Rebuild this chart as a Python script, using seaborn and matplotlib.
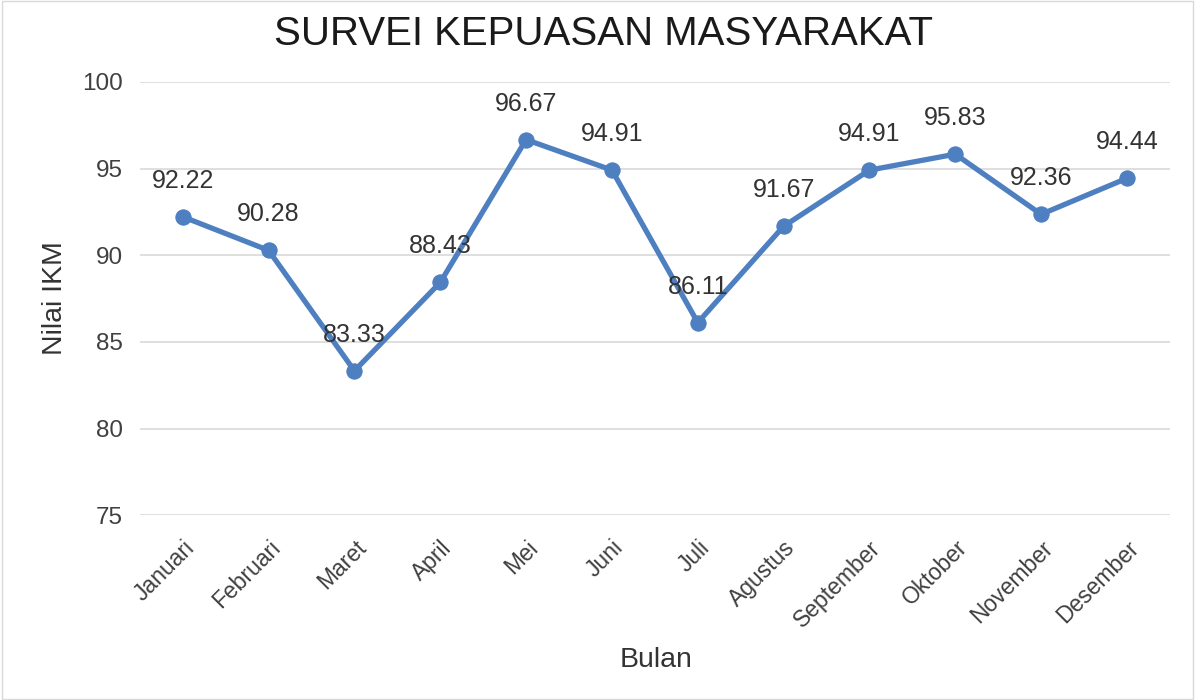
import matplotlib
matplotlib.use('Agg')
import matplotlib.pyplot as plt
import seaborn as sns
import pandas as pd

bulan = ['Januari', 'Februari', 'Maret', 'April', 'Mei', 'Juni', 'Juli',
         'Agustus', 'September', 'Oktober', 'November', 'Desember']
nilai_ikm = [92.22, 90.28, 83.33, 88.43, 96.67, 94.91, 86.11,
             91.67, 94.91, 95.83, 92.36, 94.44]
y_ticks = [75, 80, 85, 90, 95, 100]

LINE_COLOR = '#4e7fc0'
TEXT_COLOR = '#333333'

sns.set_theme(style='white')
plt.rcParams['font.family'] = ['Liberation Sans', 'DejaVu Sans']

df = pd.DataFrame({'Bulan': bulan, 'Nilai IKM': nilai_ikm})
df['pos'] = range(len(df))

fig = plt.figure(figsize=(11.95, 7.0), dpi=100)
ax = fig.add_axes([0.117, 0.264, 0.862, 0.619])

sns.lineplot(data=df, x='pos', y='Nilai IKM', ax=ax, color=LINE_COLOR,
             linewidth=3.8, marker='o', markersize=11,
             markeredgecolor=LINE_COLOR, markerfacecolor=LINE_COLOR)

# data labels above each point
for x, y in zip(df['pos'], df['Nilai IKM']):
    ax.annotate(f'{y:.2f}', (x, y), xytext=(0, 26), textcoords='offset points',
                ha='center', va='center', fontsize=18, color=TEXT_COLOR)

ax.set_xlim(-0.5, len(bulan) - 0.5)
ax.set_ylim(75, 100)
ax.set_yticks(y_ticks)
ax.set_xticks(df['pos'])
ax.set_xticklabels(bulan, rotation=45, ha='right', rotation_mode='anchor',
                   fontsize=16.5, color='#404040')
ax.tick_params(axis='y', labelsize=17.5, labelcolor='#404040', length=0, pad=12)
ax.tick_params(axis='x', length=0, pad=15)

ax.yaxis.grid(True, color='#d9d9d9', linewidth=1.2)
ax.set_axisbelow(True)
for s in ax.spines.values():
    s.set_visible(False)

ax.set_xlabel('Bulan', fontsize=20.5, color=TEXT_COLOR)
ax.xaxis.set_label_coords(0.501, -0.335)
ax.xaxis.label.set_va('center')
ax.set_ylabel('Nilai IKM', fontsize=20.5, color=TEXT_COLOR)
ax.yaxis.set_label_coords(-0.082, 0.5)
ax.yaxis.label.set_va('center')

fig.text(0.505, 0.952, 'SURVEI KEPUASAN MASYARAKAT', ha='center', va='center',
         fontsize=29, color='#1a1a1a')

border = plt.Rectangle((0.002, 0.002), 0.996, 0.996, transform=fig.transFigure,
                       fill=False, edgecolor='#d9d9d9', linewidth=1)
fig.patches.append(border)

fig.savefig('out.png', dpi=100)
